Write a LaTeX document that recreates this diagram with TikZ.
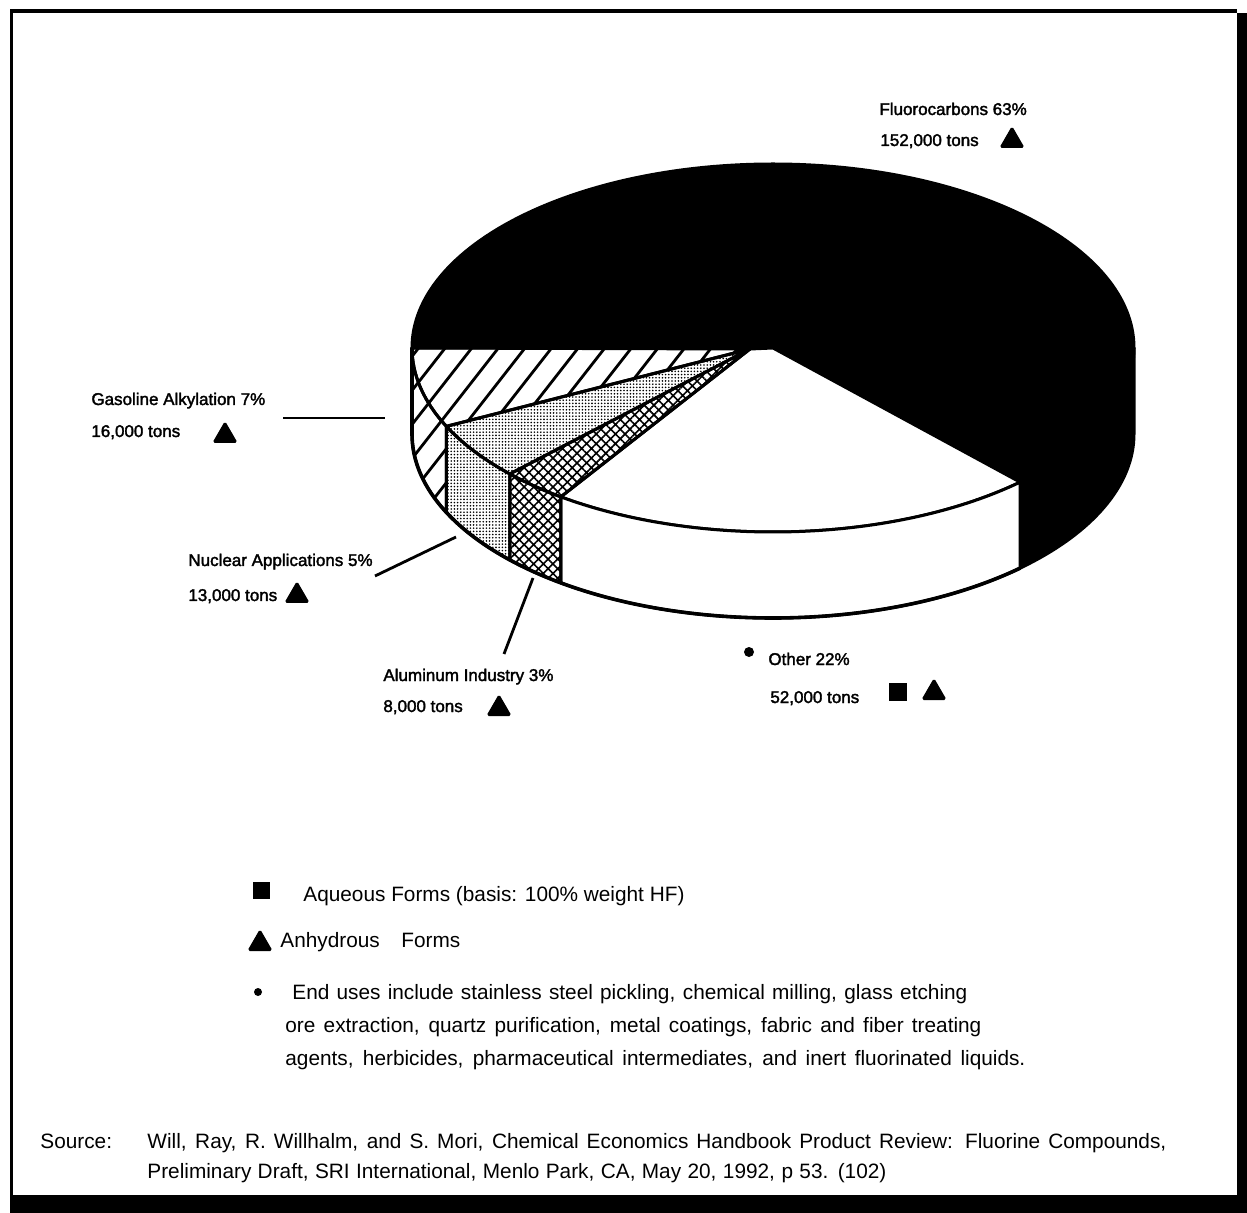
\documentclass[tikz,border=0pt]{standalone}
\usepackage{fontspec}
\setmainfont{Liberation Sans}
\newfontface\chartfont[FakeBold=2]{Liberation Sans}
\usetikzlibrary{patterns.meta,shapes.geometric,calc}

\tikzset{
  slice/.style={line width=1.5pt, line join=round},
  outer/.style={line width=1.8pt, line join=round, line cap=round},
  ell/.style={x radius=180.5pt, y radius=92pt},
  lbl/.style={font=\chartfont\fontsize{8.5pt}{10pt}\selectfont, anchor=base west, inner sep=0pt},
  legend/.style={font=\fontsize{10.4pt}{12pt}\selectfont, anchor=base west, inner sep=0pt},
  tri/.style={regular polygon, regular polygon sides=3, fill=black, draw=black,
              line width=0.6pt, rounded corners=0.8pt, inner sep=0pt,
              minimum size=13.5pt, anchor=south},
  marksq/.style={rectangle, fill=black, inner sep=0pt, minimum size=8.5pt},
  leader/.style={line width=1.4pt},
  hatchline/.style={line width=1.4pt},
  nucfill/.style={pattern={Dots[distance=1.6pt, radius=0.45pt]}},
  alufill/.style={pattern={Hatch[angle=45, distance=3.4pt, line width=0.8pt]}},
}

% a line of running text spread to a given width
\newcommand\spreadline[2]{\hbox to #1{#2}}

\begin{document}
\begin{tikzpicture}[x=0.5pt, y=0.5pt]
% page and frame with drop shadow
\fill[white] (0,0) rectangle (1247,-1213);
\useasboundingbox (0,0) rectangle (1247,-1213);
\fill[black] (10,-9) rectangle (1237,-13);
\fill[black] (10,-9) rectangle (13,-1196);
\fill[black] (1236.5,-13) rectangle (1247,-1213);
\fill[black] (10,-1195) rectangle (1247,-1213);

% pie geometry: top face centre, base centre, apex of the small wedges
\coordinate (C)  at (773,-348);
\coordinate (Cb) at (773,-434);
\coordinate (O2) at (750,-349);
% slice boundaries on the top rim
\coordinate (T0) at ($(C)+(0:180.5pt and 92pt)$);
\coordinate (Ta) at ($(C)+(-46.8:180.5pt and 92pt)$);
\coordinate (Tb) at ($(C)+(-126:180.5pt and 92pt)$);
\coordinate (Tc) at ($(C)+(-136.8:180.5pt and 92pt)$);
\coordinate (Td) at ($(C)+(-154.8:180.5pt and 92pt)$);
\coordinate (Te) at ($(C)+(180:180.5pt and 92pt)$);
% and on the bottom rim
\coordinate (B0) at ($(Cb)+(0:180.5pt and 92pt)$);
\coordinate (Ba) at ($(Cb)+(-46.8:180.5pt and 92pt)$);
\coordinate (Bb) at ($(Cb)+(-126:180.5pt and 92pt)$);
\coordinate (Bc) at ($(Cb)+(-136.8:180.5pt and 92pt)$);
\coordinate (Bd) at ($(Cb)+(-154.8:180.5pt and 92pt)$);
\coordinate (Be) at ($(Cb)+(180:180.5pt and 92pt)$);

% Fluorocarbons (solid black)
\filldraw[black, slice] (C) -- (Te) arc[ell, start angle=180, end angle=-46.8] -- cycle;
\filldraw[black, slice] (T0) arc[ell, start angle=0, end angle=-46.8]
   -- (Ba) arc[ell, start angle=-46.8, end angle=0] -- cycle;

% Other (white)
\filldraw[fill=white, slice] (O2) -- (Tb) arc[ell, start angle=-126, end angle=-46.8] -- (C) -- cycle;
\filldraw[fill=white, slice] (Ta) arc[ell, start angle=-46.8, end angle=-126]
   -- (Bb) arc[ell, start angle=-126, end angle=-46.8] -- cycle;

% Aluminum Industry (cross-hatched)
\draw[alufill, slice] (O2) -- (Tc) arc[ell, start angle=-136.8, end angle=-126] -- cycle;
\draw[alufill, slice] (Tb) arc[ell, start angle=-126, end angle=-136.8]
   -- (Bc) arc[ell, start angle=-136.8, end angle=-126] -- cycle;

% Nuclear Applications (stippled)
\draw[nucfill, slice] (O2) -- (Td) arc[ell, start angle=-154.8, end angle=-136.8] -- cycle;
\draw[nucfill, slice] (Tc) arc[ell, start angle=-136.8, end angle=-154.8]
   -- (Bd) arc[ell, start angle=-154.8, end angle=-136.8] -- cycle;

% Gasoline Alkylation (diagonal lines, drawn inside the wedge and its wall)
\begin{scope}
  \clip (O2) -- (Te) arc[ell, start angle=180, end angle=205.2] -- cycle
        (Td) arc[ell, start angle=-154.8, end angle=-180]
        -- (Be) arc[ell, start angle=-180, end angle=-154.8] -- cycle;
  \foreach \i in {0,...,20} {
    \draw[hatchline] ({392+26.6*\i},-348) ++(52:40) -- ++(232:320);
  }
\end{scope}
\draw[slice] (O2) -- (Te) arc[ell, start angle=180, end angle=205.2] -- cycle;
\draw[slice] (Td) arc[ell, start angle=-154.8, end angle=-180]
   -- (Be) arc[ell, start angle=-180, end angle=-154.8] -- cycle;

% outer contour of the front wall
\draw[outer] (Te) -- (Be) arc[ell, start angle=-180, end angle=-46.8];

% leader lines
\coordinate (g1) at (283,-418); \coordinate (g2) at (385,-418);
\coordinate (n1) at (375,-576); \coordinate (n2) at (456,-537);
\coordinate (a1) at (504,-654); \coordinate (a2) at (533,-578);
\draw[leader] (g1) -- (g2);
\draw[leader] (n1) -- (n2);
\draw[leader] (a1) -- (a2);

% slice labels
\node[lbl] (fluA) at (879,-115) {Fluorocarbons 63\%};
\node[lbl] (fluB) at (880,-146) {152,000 tons};
\node[tri] (fluT) at (1012,-148) {};

\node[lbl] (gasA) at (91,-405) {Gasoline Alkylation 7\%};
\node[lbl] (gasB) at (91,-437) {16,000 tons};
\node[tri] (gasT) at (225,-443) {};

\node[lbl] (nucA) at (188,-566) {Nuclear Applications 5\%};
\node[lbl] (nucB) at (188,-601) {13,000 tons};
\node[tri] (nucT) at (297,-603) {};

\node[lbl] (aluA) at (383,-681) {Aluminum Industry 3\%};
\node[lbl] (aluB) at (383,-712) {8,000 tons};
\node[tri] (aluT) at (499,-716) {};

\node[circle, fill=black, inner sep=0pt, minimum size=5pt] (othD) at (749,-652) {};
\node[lbl] (othA) at (768,-665) {Other 22\%};
\node[lbl] (othB) at (770,-703) {52,000 tons};
\node[marksq, minimum size=9pt] (othS) at (898,-692) {};
\node[tri] (othT) at (934,-700) {};

% key
\node[marksq] (keyS) at (261,-890.5) {};
\node[legend] (keyA) at (303,-901) {Aqueous Forms (basis: 100\% weight HF)};
\node[tri] (keyT) at (260,-951) {};
\node[legend] (keyB) at (280,-947) {Anhydrous\hspace{10.8pt}Forms};
\node[circle, fill=black, inner sep=0pt, minimum size=4pt] (keyD) at (258,-992) {};
\node[legend] (keyC1) at (292,-999) {\spreadline{337.5pt}{End uses include stainless steel pickling, chemical milling, glass etching}};
\node[legend] (keyC2) at (285,-1032) {\spreadline{348pt}{ore extraction, quartz purification, metal coatings, fabric and fiber treating}};
\node[legend] (keyC3) at (285,-1065) {\spreadline{370pt}{agents, herbicides, pharmaceutical intermediates, and inert fluorinated liquids.}};

% source note
\node[legend] (srcL) at (40,-1148) {Source:};
\node[legend] (src1) at (147,-1148) {\spreadline{509.5pt}{Will, Ray, R. Willhalm, and S. Mori, Chemical Economics Handbook Product Review: Fluorine Compounds,}};
\node[legend] (src2) at (147,-1178) {\spreadline{369.5pt}{Preliminary Draft, SRI International, Menlo Park, CA, May 20, 1992, p 53. (102)}};
\end{tikzpicture}
\end{document}
